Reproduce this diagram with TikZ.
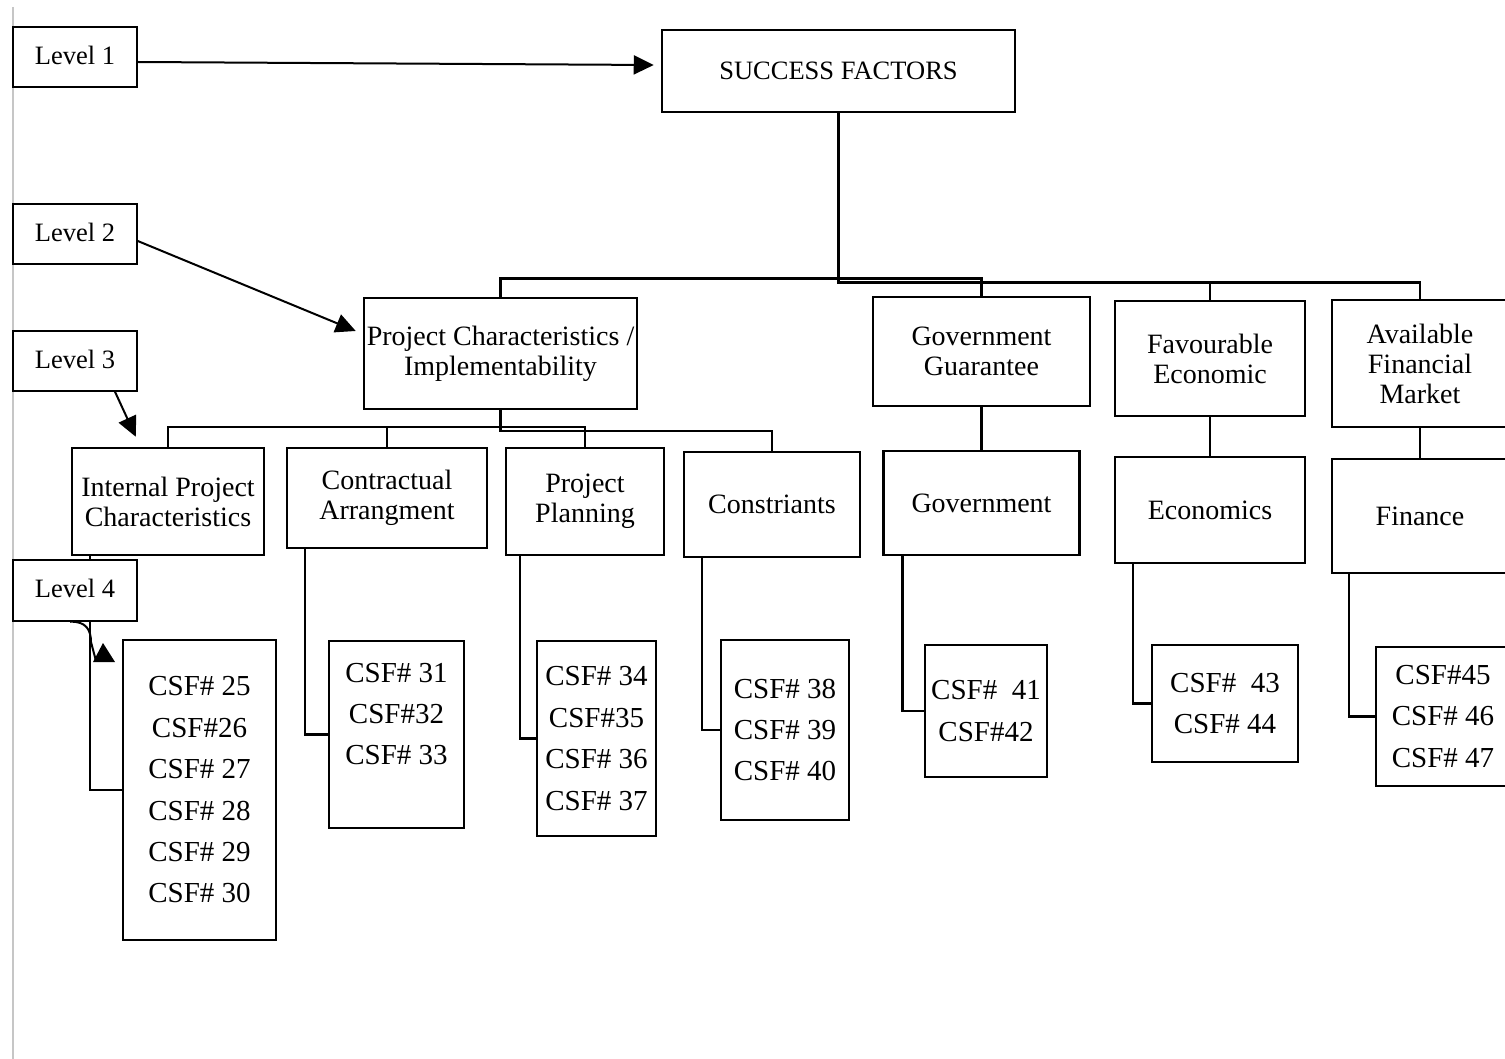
\documentclass[tikz,border=0pt]{standalone}
\usepackage{fontspec}
\setmainfont{Liberation Serif}
\usepackage{tikz}
\usetikzlibrary{arrows.meta}
\newcommand{\corLinha}{black}
\newcommand{\corBorda}{gray!45}
\newcommand{\nivel}[1]{\raisebox{4pt}{#1}}
\tikzset{
  lvbox/.style={draw=\corLinha, line width=1.5pt, fill=white, inner sep=0pt,
    minimum width=124pt, minimum height=60pt, font=\fontsize{26.5}{28}\selectfont},
  topbox/.style={draw=\corLinha, line width=2.5pt, fill=white, inner sep=0pt, align=center,
    font=\fontsize{28}{30}\selectfont},
  csfbox/.style={draw=\corLinha, line width=2.5pt, fill=white, inner sep=0pt, align=center,
    font=\fontsize{29}{41.4}\selectfont},
  link/.style={draw=\corLinha, line width=2.5pt},
  arr/.style={draw=\corLinha, line width=2pt, -{Triangle[length=20pt,width=19pt]}}
}
\begin{document}
\begin{tikzpicture}[x=1pt,y=-1pt]
  \clip (0,0) rectangle (1505,1059);
  \draw[\corBorda, line width=1.2pt] (13,7) -- (13,1059);

    % level 1
  \node[topbox, minimum width=353pt, minimum height=82pt, font=\fontsize{26.5}{28}\selectfont] (sf) at (838.5,71) {SUCCESS FACTORS};

    % level 2
  \node[topbox, minimum width=273pt, minimum height=111pt] (pci) at (500.5,353.5) {Project Characteristics /\\Implementability};
  \node[topbox, minimum width=217pt, minimum height=109pt] (gg) at (981.5,351.5) {Government\\Guarantee};
  \node[topbox, minimum width=190pt, minimum height=115pt] (fe) at (1210,358.5) {Favourable\\Economic};
  \node[topbox, minimum width=176pt, minimum height=127pt] (afm) at (1420,363.5) {Available\\Financial\\Market};

    % level 3
  \node[topbox, minimum width=192pt, minimum height=107pt] (ipc) at (168,501.5) {Internal Project\\Characteristics};
  \node[topbox, minimum width=200pt, minimum height=100pt] (ca) at (387,498) {Contractual\\Arrangment};
  \node[topbox, minimum width=158pt, minimum height=107pt] (pp) at (585,501.5) {Project\\Planning};
  \node[topbox, minimum width=176pt, minimum height=105pt] (con) at (772,504.5) {Constriants};
  \node[topbox, minimum width=196pt, minimum height=104pt] (gov) at (981.5,503) {Government};
  \node[topbox, minimum width=190pt, minimum height=106pt] (eco) at (1210,510) {Economics};
  \node[topbox, minimum width=176pt, minimum height=114pt] (fin) at (1420,516) {Finance};

    % level 4
  \node[csfbox, minimum width=153pt, minimum height=300pt] (c1) at (199.5,790) {CSF\# 25\\CSF\#26\\CSF\# 27\\CSF\# 28\\CSF\# 29\\CSF\# 30};
  \node[csfbox, minimum width=135pt, minimum height=187pt] (c2) at (396.5,734.5) {CSF\# 31\\CSF\#32\\CSF\# 33\\\mbox{}};
  \node[csfbox, minimum width=119pt, minimum height=195pt] (c3) at (596.5,738.5) {CSF\# 34\\CSF\#35\\CSF\# 36\\CSF\# 37};
  \node[csfbox, minimum width=128pt, minimum height=180pt] (c4) at (785,730) {CSF\# 38\\CSF\# 39\\CSF\# 40};
  \node[csfbox, minimum width=122pt, minimum height=132pt] (c5) at (986,711) {CSF\#~~41\\CSF\#42};
  \node[csfbox, minimum width=146pt, minimum height=117pt] (c6) at (1225,703.5) {CSF\#~~43\\CSF\# 44};
  \node[csfbox, minimum width=134pt, minimum height=139pt] (c7) at (1443,716.5) {CSF\#45\\CSF\# 46\\CSF\# 47};

    % connectors level 1 - 2
  \draw[link] (pci.north) |- ([yshift=17pt]gg.north) -- (gg.north);
  \draw[link] (sf.south) |- ([yshift=16pt]afm.north) -- (afm.north);
  \draw[link] (fe.north) -- ++(0,-17);

    % connectors level 2 - 3
  \draw[link] (ipc.north) |- ([yshift=20pt]pp.north) -- (pp.north);
  \draw[link] (ca.north) -- ++(0,-20);
  \draw[link] (pci.south) |- ([yshift=20pt]con.north) -- (con.north);
  \draw[link] (gg.south) -- (gov.north);
  \draw[link] (fe.south) -- (eco.north);
  \draw[link] (afm.south) -- (fin.north);

    % connectors level 3 - 4
  \draw[link] ([xshift=19pt]ipc.south west) |- (c1.west);
  \draw[link] ([xshift=19pt]ca.south west) |- (c2.west);
  \draw[link] ([xshift=15pt]pp.south west) |- (c3.west);
  \draw[link] ([xshift=19pt]con.south west) |- (c4.west);
  \draw[link] ([xshift=20pt]gov.south west) |- (c5.west);
  \draw[link] ([xshift=19pt]eco.south west) |- (c6.west);
  \draw[link] ([xshift=18pt]fin.south west) |- (c7.west);

    % level labels
  \node[lvbox] (lvA) at (75,57) {\nivel{Level 1}};
  \node[lvbox] (lvB) at (75,234) {\nivel{Level 2}};
  \node[lvbox] (lvC) at (75,361) {\nivel{Level 3}};
  \node[lvbox, minimum height=61pt] (lvD) at (75,590.5) {\nivel{Level 4}};

  \draw[arr] ([yshift=-5pt]lvA.east) -- ([xshift=-7pt,yshift=6pt]sf.west);
  \draw[arr] ([yshift=-7pt]lvB.east) -- ([xshift=-7pt,yshift=22.5pt]pci.west);
  \draw[arr] ([xshift=40pt]lvC.south) -- ([xshift=65pt,yshift=10pt]ipc.south west |- ipc.north);
  \coordinate (l4end) at (96,661);
  \draw[draw=\corLinha, line width=2pt] ([xshift=-5pt]lvD.south) .. controls (86,621) and (91,630) .. (91,642) -- (l4end);
  \fill[\corLinha] (93,662) -- (115,662) -- (103,643) -- cycle;
\end{tikzpicture}
\end{document}
